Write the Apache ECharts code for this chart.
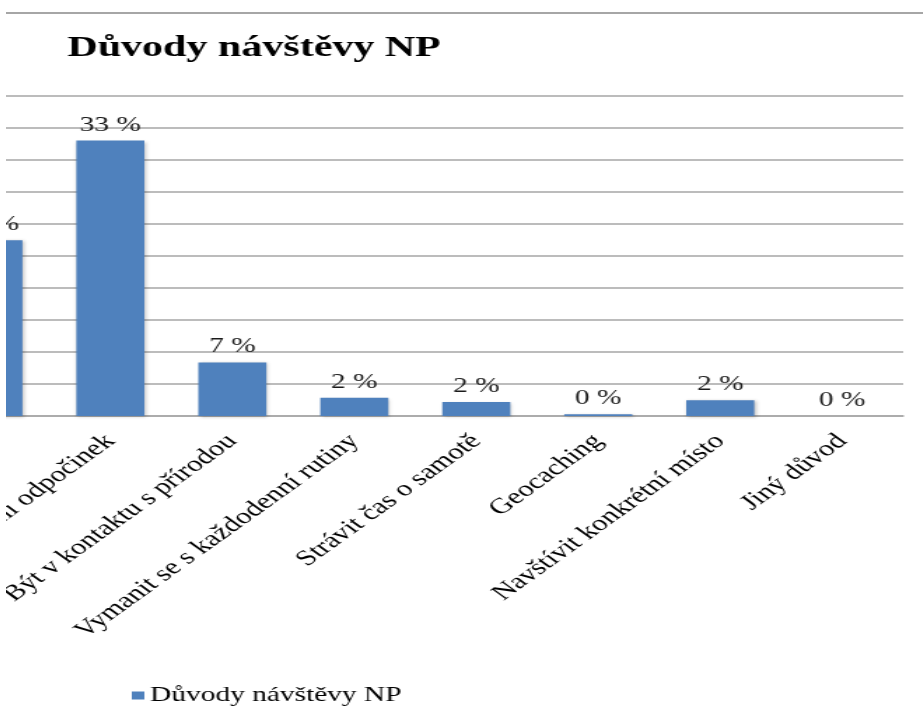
<!DOCTYPE html>
<html>
<head>
<meta charset="utf-8">
<script src="https://cdn.jsdelivr.net/npm/echarts@6/dist/echarts.min.js"></script>
<style>
  html, body { margin: 0; padding: 0; background: #fff; }
  #wrap { position: absolute; left: 6px; top: 0; width: 917px; height: 715px; overflow: hidden; background: #fff; }
  /* the chart is laid out narrow and stretched sideways */
  #chart { position: absolute; left: -206px; top: 0; width: 802px; height: 715px;
           transform: scaleX(1.4); transform-origin: 0 0; }
</style>
</head>
<body>
<div id="wrap"><div id="chart"></div></div>
<script>
// Reasons for visiting a national park (share of answers, %)
const categories = [
  'Pasivní odpočinek',
  'Aktivní odpočinek',
  'Být v kontaktu s přírodou',
  'Vymanit se s každodenní rutiny',
  'Strávit čas o samotě',
  'Geocaching',
  'Navštívit konkrétní místo',
  'Jiný důvod'
];
const shares = [21.3, 33.4, 6.5, 2.2, 1.7, 0.2, 1.9, 0];
const seriesName = 'Důvody návštěvy NP';
const titleText = 'Důvody návštěvy NP';

const serif = 'Liberation Serif, Times New Roman, serif';
const gridGray = '#a6a6a6';

const chart = echarts.init(document.getElementById('chart'), null, { renderer: 'canvas' });
chart.setOption({
  animation: false,
  backgroundColor: '#fff',
  title: {
    text: titleText,
    left: 191,
    top: 33,
    padding: 0,
    textStyle: { fontFamily: serif, fontWeight: 'bold', fontSize: 30, color: '#000' }
  },
  graphic: [{
    type: 'line',
    shape: { x1: 0, y1: 13, x2: 802, y2: 13 },
    style: { stroke: gridGray, lineWidth: 2 },
    silent: true
  }],
  legend: {
    left: 232,
    top: 680,
    icon: 'rect',
    itemWidth: 9,
    itemHeight: 8,
    itemGap: 10,
    textStyle: { fontFamily: serif, fontSize: 21, color: '#000', padding: [0, 0, 0, -1] },
    data: [seriesName]
  },
  grid: {
    left: 91,
    right: 14,
    top: 96,
    bottom: 299,
    containLabel: false,
    outerBoundsMode: 'none'
  },
  xAxis: {
    type: 'category',
    data: categories,
    axisLine: { lineStyle: { color: gridGray, width: 1.5 } },
    axisTick: { show: false },
    axisLabel: {
      interval: 0,
      rotate: 45,
      margin: 22,
      fontFamily: serif,
      fontSize: 22,
      color: '#000'
    }
  },
  yAxis: {
    type: 'value',
    min: 0,
    max: 38.8,
    interval: 3.88,
    axisLabel: { show: false },
    axisLine: { show: false },
    axisTick: { show: false },
    splitLine: { lineStyle: { color: gridGray, width: 1.5 } }
  },
  series: [{
    name: seriesName,
    type: 'bar',
    data: shares,
    barWidth: 48.6,
    itemStyle: {
      color: '#4f81bd',
      shadowColor: 'rgba(0,0,0,0.25)',
      shadowBlur: 3,
      shadowOffsetX: 1,
      shadowOffsetY: 1
    },
    label: {
      show: true,
      position: 'top',
      distance: 5,
      formatter: p => Math.round(p.value) + ' %',
      fontFamily: serif,
      fontSize: 21,
      color: '#1a1a1a'
    }
  }]
});
</script>
</body>
</html>
